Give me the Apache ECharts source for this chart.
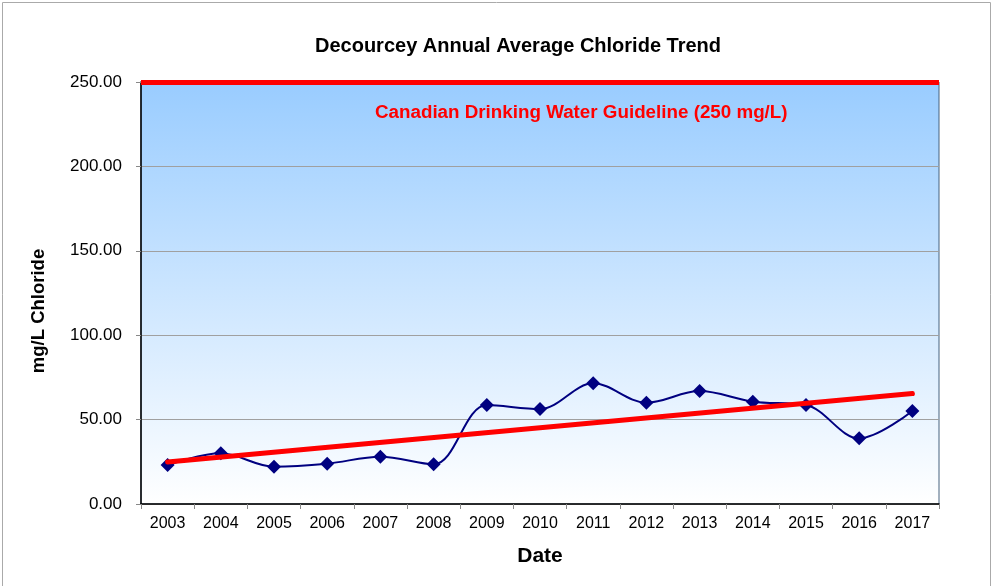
<!DOCTYPE html>
<html>
<head>
<meta charset="utf-8">
<style>
  html, body { margin: 0; padding: 0; background: #ffffff; }
  #chart { width: 1005px; height: 586px; }
</style>
<script src="https://cdn.jsdelivr.net/npm/echarts@6/dist/echarts.min.js"></script>
</head>
<body>
<div id="chart"></div>
<script>
// Annual average chloride, Decourcey well (mg/L)
const years = ['2003', '2004', '2005', '2006', '2007', '2008', '2009', '2010',
               '2011', '2012', '2013', '2014', '2015', '2016', '2017'];
const chloride = [23.1, 30.0, 22.1, 23.9, 28.0, 23.5, 58.6, 56.3,
                  71.5, 60.0, 66.9, 60.6, 58.6, 38.9, 55.1];
// Linear trend endpoints (first and last year)
const trendStart = 24.9;
const trendEnd = 65.4;
// Canadian drinking water guideline (mg/L)
const guideline = 250;
const yTicks = [0, 50, 100, 150, 200, 250];

const FONT = '"Liberation Sans", Arial, sans-serif';
const chart = echarts.init(document.getElementById('chart'), null, { renderer: 'canvas' });

chart.setOption({
  animation: false,
  backgroundColor: '#ffffff',
  title: {
    text: 'Decourcey Annual Average Chloride Trend',
    left: 513,
    top: 31,
    textAlign: 'center',
    textStyle: { fontFamily: FONT, fontSize: 20, fontWeight: 'bold', color: '#000000' }
  },
  grid: {
    left: 141, right: 66, top: 82, bottom: 82,
    show: true,
    borderColor: '#46627F',
    borderWidth: 1,
    backgroundColor: {
      type: 'linear', x: 0, y: 0, x2: 0, y2: 1,
      colorStops: [
        { offset: 0, color: '#99CCFF' },
        { offset: 1, color: '#FFFFFF' }
      ]
    }
  },
  xAxis: {
    type: 'category',
    data: years,
    boundaryGap: true,
    name: 'Date',
    nameLocation: 'middle',
    nameGap: 42,
    nameTextStyle: { fontFamily: FONT, fontSize: 21, fontWeight: 'bold', color: '#000000' },
    axisLine: { lineStyle: { color: '#000000', width: 1.5 } },
    axisTick: { show: true, length: 5, lineStyle: { color: '#888888' } },
    axisLabel: { fontFamily: FONT, fontSize: 16, color: '#000000', margin: 12 },
    splitLine: { show: false }
  },
  yAxis: {
    type: 'value',
    min: yTicks[0],
    max: yTicks[yTicks.length - 1],
    interval: 50,
    axisLine: { show: true, lineStyle: { color: '#000000', width: 1.5 } },
    axisTick: { show: true, length: 5, lineStyle: { color: '#888888' } },
    axisLabel: {
      fontFamily: FONT, fontSize: 17, color: '#000000', margin: 19,
      formatter: v => v.toFixed(2)
    },
    splitLine: { show: true, lineStyle: { color: '#A0A0A0', width: 1 } }
  },
  series: [
    {
      name: 'Chloride',
      type: 'line',
      data: chloride,
      smooth: 0.35,
      symbol: 'diamond',
      symbolSize: 14,
      itemStyle: { color: '#000080' },
      lineStyle: { color: '#000080', width: 2 },
      z: 3
    },
    {
      name: 'Trend',
      type: 'line',
      data: [[0, trendStart], [years.length - 1, trendEnd]],
      symbol: 'none',
      lineStyle: { color: '#FF0000', width: 5, cap: 'round' },
      z: 4,
      markLine: {
        silent: true,
        symbol: 'none',
        label: { show: false },
        lineStyle: { color: '#FF0000', width: 5, type: 'solid' },
        data: [{ yAxis: guideline }]
      }
    }
  ],
  graphic: [
    {
      type: 'rect',
      shape: { x: 2.5, y: 2.5, width: 988, height: 620 },
      style: { fill: null, stroke: '#AAAAAA', lineWidth: 1 },
      silent: true, z: -10
    },
    {
      // y-axis title, rotated
      type: 'text',
      x: 39,
      y: 311,
      rotation: Math.PI / 2,
      style: {
        text: 'mg/L Chloride',
        fontFamily: FONT, fontSize: 18.5, fontWeight: 'bold', fill: '#000000',
        textAlign: 'center', textVerticalAlign: 'middle'
      },
      z: 10
    },
    {
      type: 'text',
      left: 375,
      top: 103,
      style: {
        text: 'Canadian Drinking Water Guideline (' + guideline + ' mg/L)',
        fontFamily: FONT, fontSize: 18.8, fontWeight: 'bold', fill: '#FF0000'
      },
      z: 10
    }
  ]
});
</script>
</body>
</html>
